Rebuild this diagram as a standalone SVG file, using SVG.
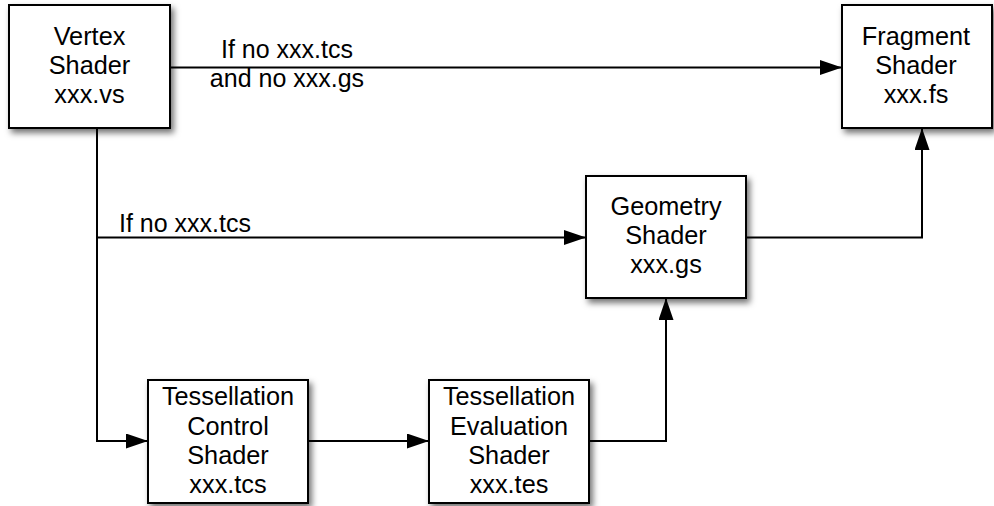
<svg xmlns="http://www.w3.org/2000/svg" width="994" height="506" viewBox="0 0 994 506">
<style>
.box{fill:#fff;stroke:#000;stroke-width:2;filter:url(#sh)}
.t{font-family:"Liberation Sans",Arial,sans-serif;font-size:25.3px;fill:#000;text-anchor:middle}
.l{font-family:"Liberation Sans",Arial,sans-serif;font-size:25px;fill:#000}
.c{fill:none;stroke:#000;stroke-width:2}
</style>
<defs>
<filter id="sh" x="-20%" y="-20%" width="150%" height="150%">
<feDropShadow dx="3" dy="4" stdDeviation="3" flood-color="#000" flood-opacity="0.55"/>
</filter>
<marker id="ah" markerUnits="userSpaceOnUse" markerWidth="23" markerHeight="16" refX="22" refY="7.5" orient="auto">
<path d="M0,0 L22,7.5 L0,15 z" fill="#000"/>
</marker>
</defs>
<rect width="994" height="506" fill="#fff"/>
<g id="connectors">
<path class="c" d="M170,67.5 H842" marker-end="url(#ah)"/>
<path class="c" d="M97,128 V441 H148" marker-end="url(#ah)"/>
<path class="c" d="M97,237.5 H586" marker-end="url(#ah)"/>
<path class="c" d="M308,441 H429" marker-end="url(#ah)"/>
<path class="c" d="M589,441 H666 V298" marker-end="url(#ah)"/>
<path class="c" d="M746,237.5 H922 V128" marker-end="url(#ah)"/>
<text class="l" x="287" y="58" text-anchor="middle">If no xxx.tcs</text>
<text class="l" x="287" y="87" text-anchor="middle">and no xxx.gs</text>
<text class="l" x="119" y="232">If no xxx.tcs</text>
</g>
<g id="vertex">
<rect class="box" x="9" y="5" width="161" height="123"/>
<text class="t" x="89.5" y="45">Vertex</text>
<text class="t" x="89.5" y="74">Shader</text>
<text class="t" x="89.5" y="103">xxx.vs</text>
</g>
<g id="fragment">
<rect class="box" x="842" y="5" width="150" height="123"/>
<text class="t" x="916" y="45">Fragment</text>
<text class="t" x="916" y="74">Shader</text>
<text class="t" x="916" y="103">xxx.fs</text>
</g>
<g id="geometry">
<rect class="box" x="586" y="176" width="160" height="122"/>
<text class="t" x="666" y="215">Geometry</text>
<text class="t" x="666" y="244">Shader</text>
<text class="t" x="666" y="273">xxx.gs</text>
</g>
<g id="tess-control">
<rect class="box" x="148" y="380" width="160" height="123"/>
<text class="t" x="228" y="405">Tessellation</text>
<text class="t" x="228" y="435">Control</text>
<text class="t" x="228" y="464">Shader</text>
<text class="t" x="228" y="493">xxx.tcs</text>
</g>
<g id="tess-eval">
<rect class="box" x="429" y="380" width="160" height="123"/>
<text class="t" x="509" y="405">Tessellation</text>
<text class="t" x="509" y="435">Evaluation</text>
<text class="t" x="509" y="464">Shader</text>
<text class="t" x="509" y="493">xxx.tes</text>
</g>
</svg>
